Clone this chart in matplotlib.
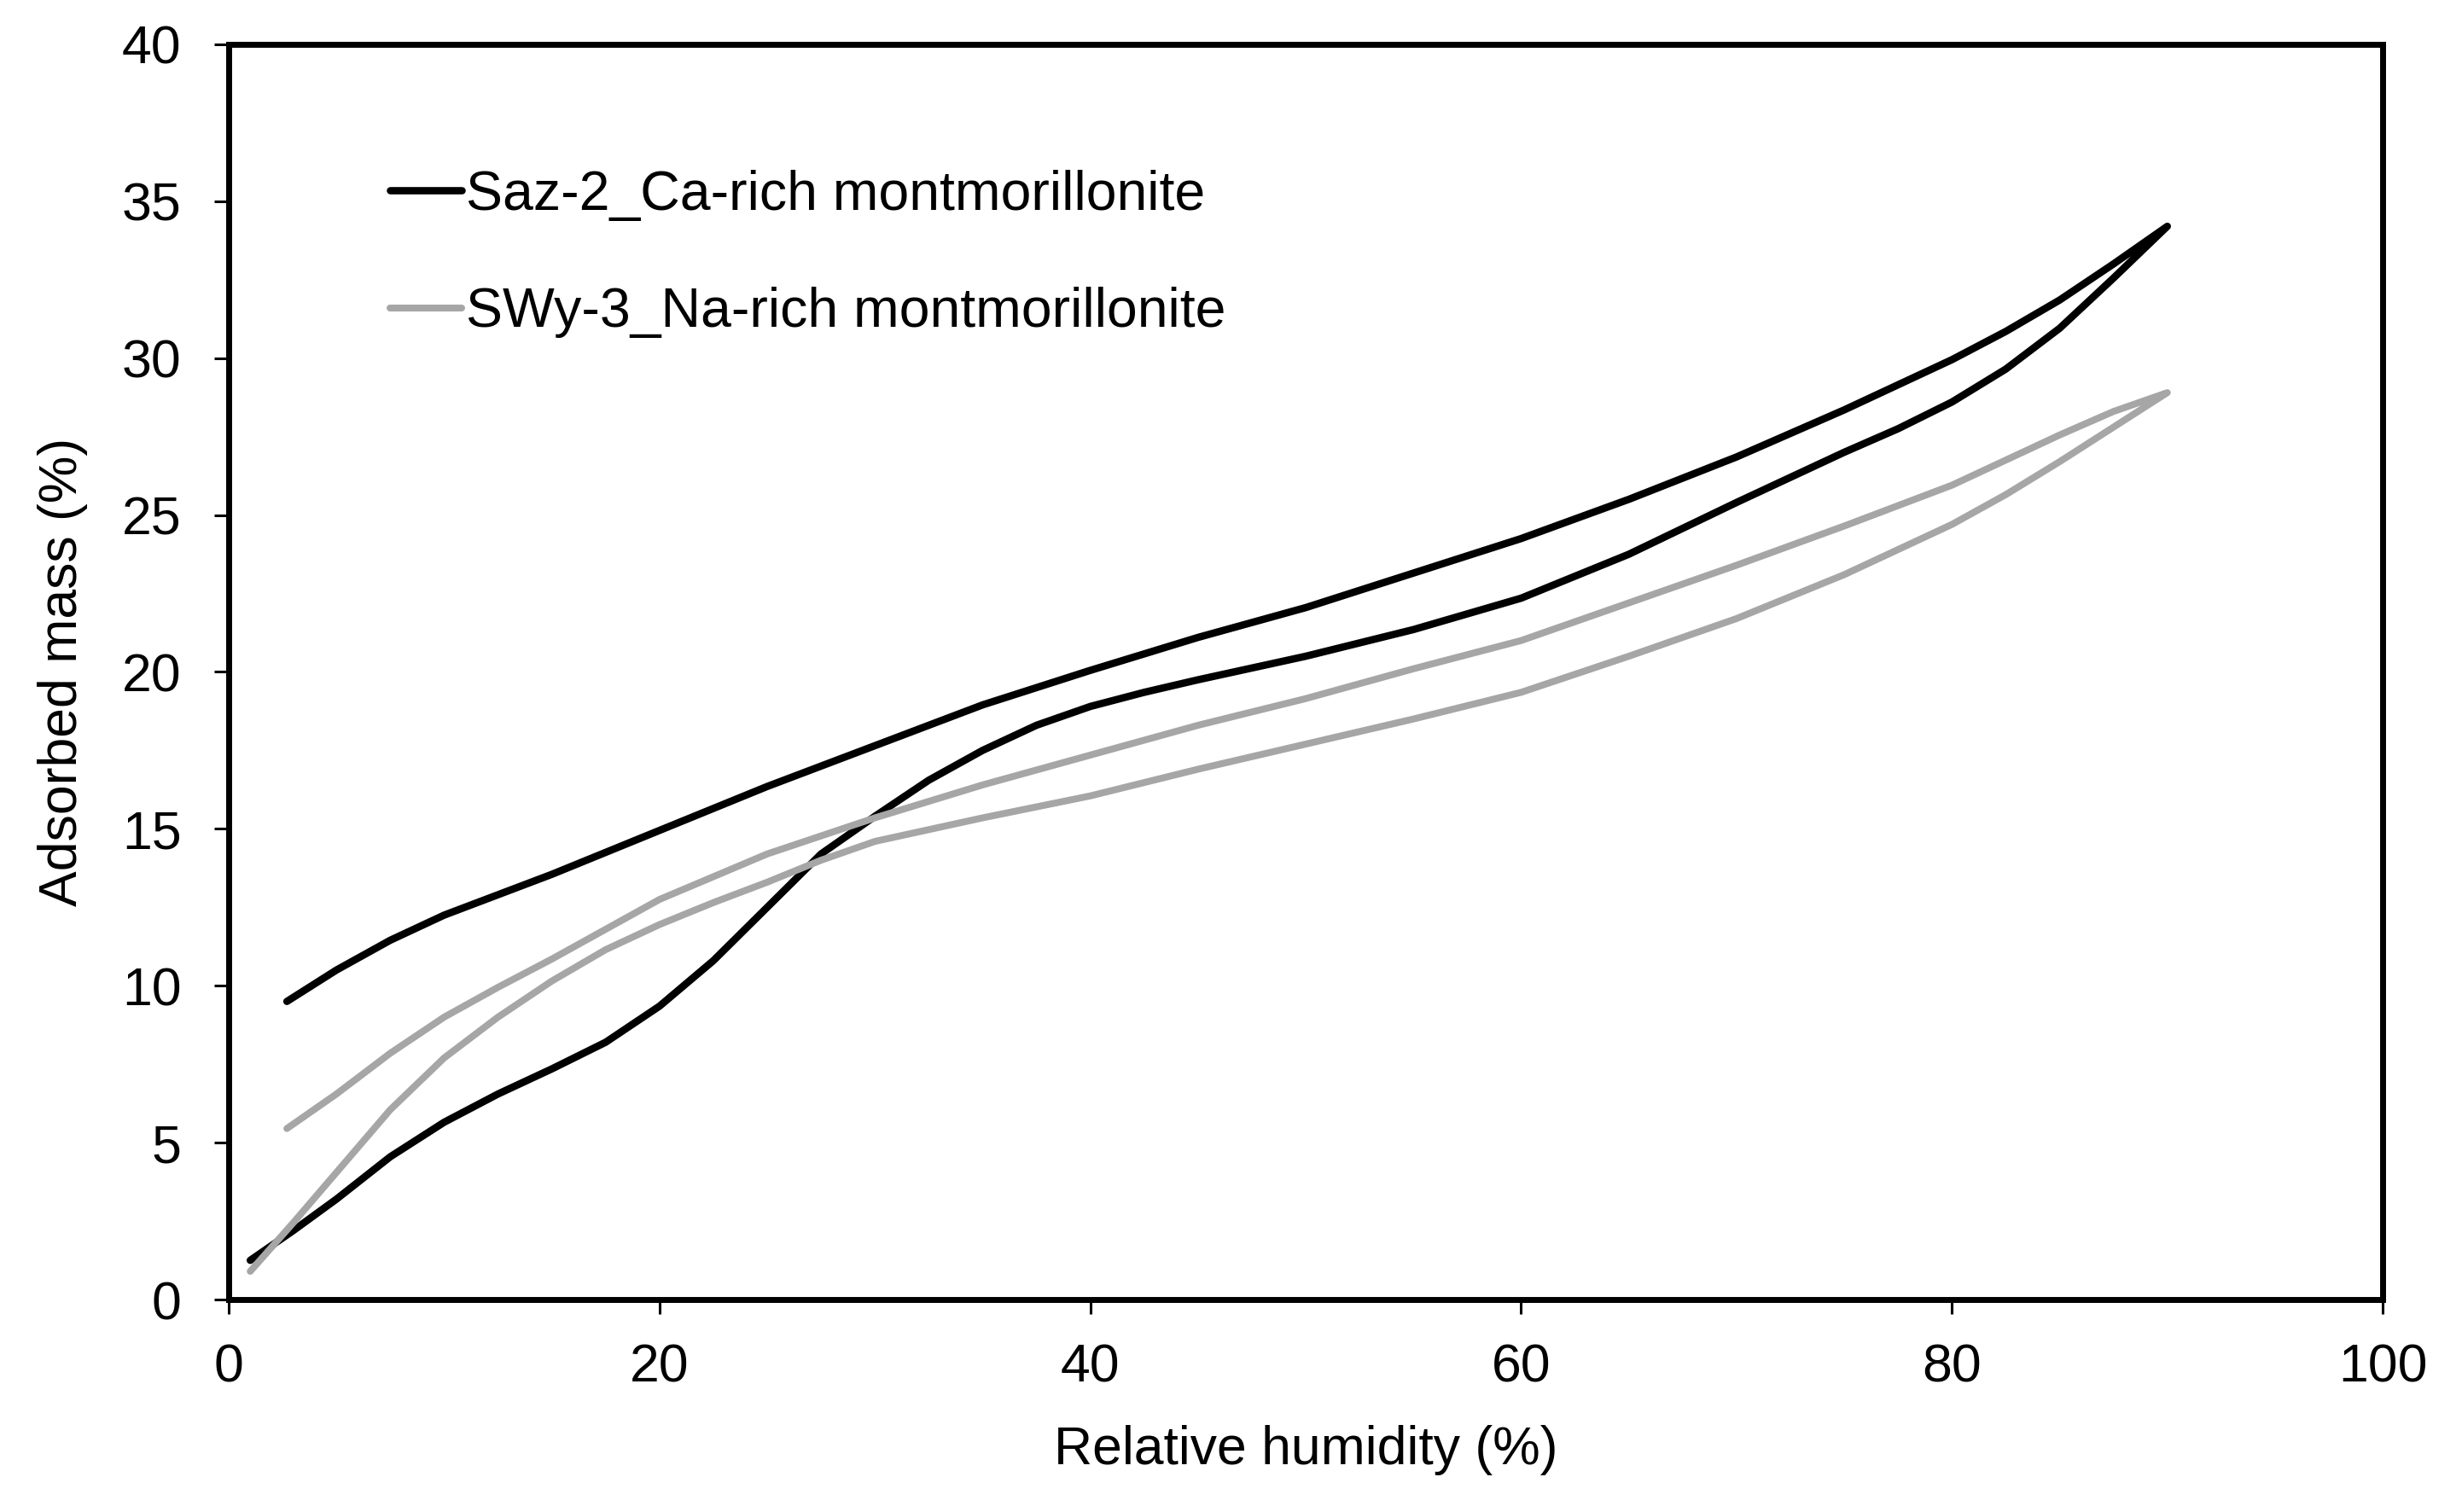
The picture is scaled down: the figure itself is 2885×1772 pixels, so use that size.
import matplotlib
matplotlib.use("Agg")
import matplotlib.pyplot as plt

plt.rcParams['font.family'] = ['Liberation Sans', 'DejaVu Sans']

# Saz-2 (Ca-rich montmorillonite): adsorption branch then desorption branch
saz_ads_rh = [1, 3, 5, 7.5, 10, 12.5, 15, 17.5, 20, 22.5, 25, 27.5, 30, 32.5, 35,
              37.5, 40, 42.5, 45, 50, 55, 60, 65, 70, 75, 77.5, 80, 82.5, 85, 87.5, 90]
saz_ads = [1.25, 2.2, 3.2, 4.55, 5.65, 6.55, 7.35, 8.2, 9.35, 10.8, 12.5, 14.2, 15.4,
           16.55, 17.5, 18.3, 18.9, 19.35, 19.75, 20.5, 21.35, 22.35, 23.75, 25.4,
           27.0, 27.75, 28.6, 29.65, 30.95, 32.55, 34.2]
saz_des_rh = [90, 87.5, 85, 82.5, 80, 75, 70, 65, 60, 55, 50, 45, 40, 35, 30, 25, 20,
              15, 10, 7.5, 5, 2.7]
saz_des = [34.2, 33.0, 31.85, 30.85, 29.95, 28.35, 26.85, 25.5, 24.25, 23.15, 22.05,
           21.1, 20.05, 18.95, 17.65, 16.35, 14.95, 13.55, 12.25, 11.45, 10.5, 9.5]

# SWy-3 (Na-rich montmorillonite)
swy_ads_rh = [1, 3, 5, 7.5, 10, 12.5, 15, 17.5, 20, 22.5, 25, 27.5, 30, 35, 40, 45,
              50, 55, 60, 65, 70, 75, 80, 82.5, 85, 87.5, 90]
swy_ads = [0.9, 2.45, 4.05, 6.05, 7.7, 9.0, 10.15, 11.15, 11.95, 12.65, 13.3, 14.0,
           14.6, 15.35, 16.05, 16.9, 17.7, 18.5, 19.35, 20.5, 21.7, 23.1, 24.7, 25.65,
           26.7, 27.8, 28.9]
swy_des_rh = [90, 87.5, 85, 82.5, 80, 75, 70, 65, 60, 55, 50, 45, 40, 35, 30, 25, 20,
              15, 12.5, 10, 7.5, 5, 2.7]
swy_des = [28.9, 28.3, 27.55, 26.75, 25.95, 24.65, 23.4, 22.2, 21.0, 20.1, 19.15, 18.3,
           17.35, 16.4, 15.35, 14.2, 12.75, 10.85, 9.95, 9.0, 7.85, 6.55, 5.45]

labels = ["Saz-2_Ca-rich montmorillonite", "SWy-3_Na-rich montmorillonite"]
colors = ["#000000", "#A6A6A6"]

x_ticks = [0, 20, 40, 60, 80, 100]
y_ticks = [0, 5, 10, 15, 20, 25, 30, 35, 40]

fig = plt.figure(figsize=(14.425, 8.86), dpi=200)
ax = fig.add_axes([0.0929, 0.1405, 0.8749, 0.8302])

ax.plot(saz_ads_rh + saz_des_rh, saz_ads + saz_des, color=colors[0], lw=3.1,
        solid_capstyle='round', solid_joinstyle='round', label=labels[0])
ax.plot(swy_ads_rh + swy_des_rh, swy_ads + swy_des, color=colors[1], lw=2.9,
        solid_capstyle='round', solid_joinstyle='round', label=labels[1])

ax.set_xlim(0, 100)
ax.set_ylim(0, 40)
ax.set_xticks(x_ticks)
ax.set_yticks(y_ticks)
ax.tick_params(axis='both', direction='out', labelsize=22.5, width=1.1, length=6,
               colors='black')
ax.tick_params(axis='y', pad=14)
ax.tick_params(axis='x', pad=12)
for s in ax.spines.values():
    s.set_linewidth(2.5)
    s.set_color('black')

ax.set_xlabel("Relative humidity (%)", fontsize=22.5)
ax.set_ylabel("Adsorbed mass (%)", fontsize=22.5)
ax.xaxis.set_label_coords(0.5, -0.120)
ax.xaxis.label.set_va('center')
ax.yaxis.set_label_coords(-0.077, 0.5)
ax.yaxis.label.set_va('center')

leg = ax.legend(loc='upper left', bbox_to_anchor=(0.075, 0.90), frameon=False,
                fontsize=23.2, handlelength=1.3, handletextpad=0.08,
                labelspacing=1.2, borderpad=0, borderaxespad=0)

fig.savefig("out.png", dpi=200, facecolor='white')
